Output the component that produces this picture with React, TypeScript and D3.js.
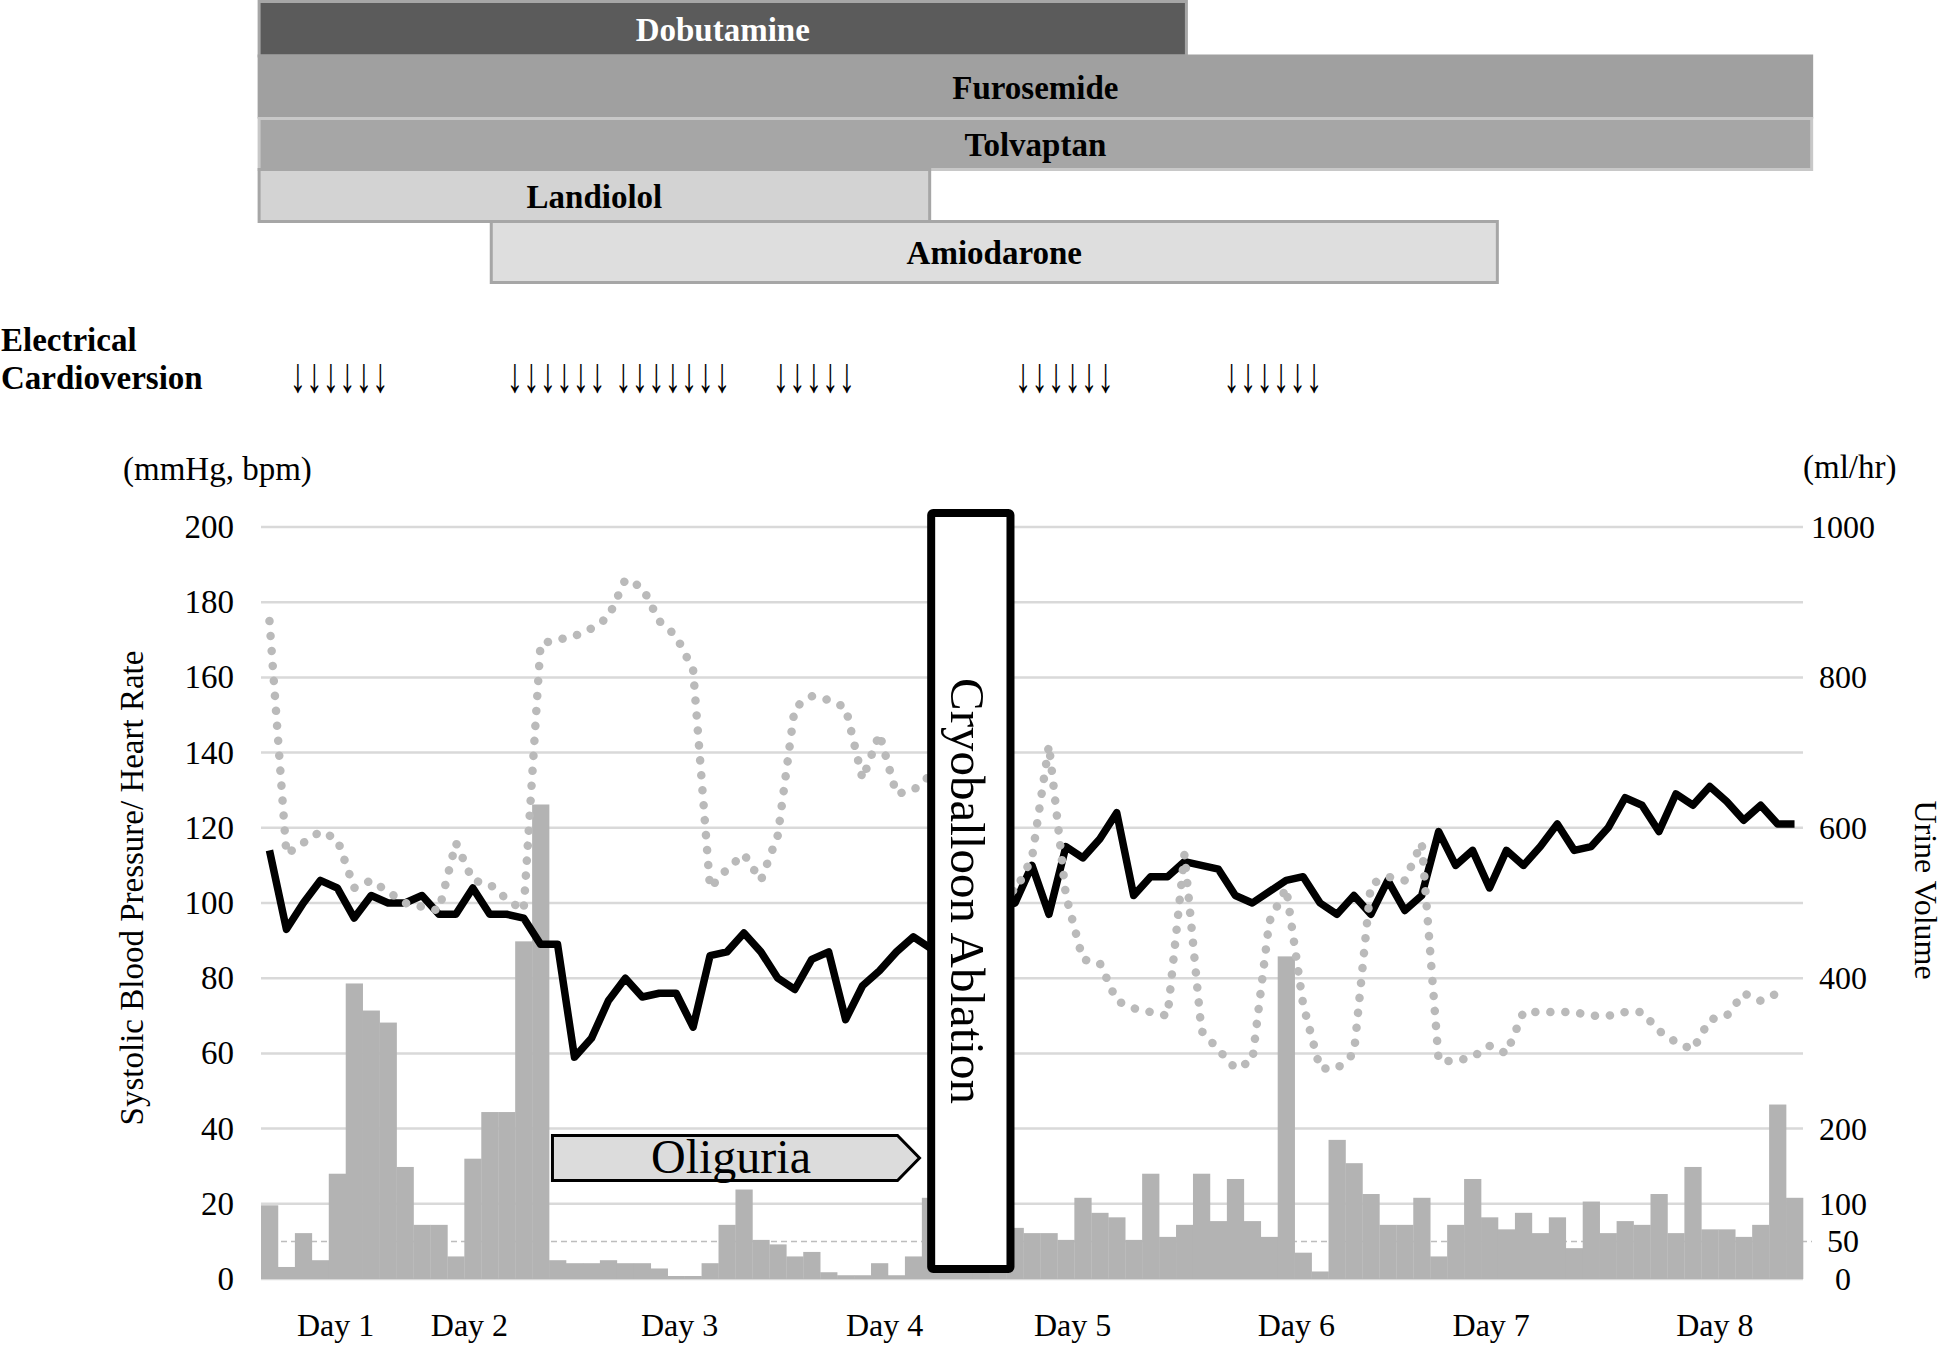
import React from "react";
import * as d3 from "d3";

// systolic blood pressure (mmHg), one point per 2h slot
const sbp = [
  114, 93, 100, 106, 104, 96, 102, 100, 100, 102,
  97, 97, 104, 97, 97, 96, 89, 89, 59, 64,
  74, 80, 75, 76, 76, 67, 86, 87, 92, 87,
  80, 77, 85, 87, 69, 78, 82, 87, 91, 88,
  90, 94, 97, 99, 100, 110, 97, 115, 112, 117,
  124, 102, 107, 107, 111, 110, 109, 102, 100, 103,
  106, 107, 100, 97, 102, 97, 106, 98, 102, 119,
  110, 114, 104, 114, 110, 115, 121, 114, 115, 120,
  128, 126, 119, 129, 126, 131, 127, 122, 126, 121,
  121,
];

// heart rate (bpm)
const hr: (number | null)[] = [
  175, 113, 116, 119, 117, 104, 106, 103, 100, 99,
  98, 116, 106, 105, 101, 98, 169, 170, 171, 173,
  176, 186, 184, 175, 171, 162, 104, 109, 113, 106,
  118, 152, 155, 154, 152, 133, 145, 129, 130, 134,
  126, 118, 110, 105, 103, 112, 142, 102, 85, 84,
  74, 72, 71, 70, 113, 66, 61, 56, 58, 95,
  104, 73, 56, 56, 60, 105, 107, 106, 116, 58,
  58, 59, 62, 60, 71, 71, 71, 71, 70, 70,
  71, 71, 66, 63, 61, 69, 70, 76, 74, 76,
  null,
];

// urine volume (ml/hr)
const urine = [
  98, 16, 61, 25, 140, 393, 357, 341, 149, 72,
  72, 30, 160, 222, 222, 449, 631, 25, 21, 21,
  25, 21, 21, 14, 4, 4, 21, 72, 119, 52,
  46, 30, 36, 9, 5, 5, 21, 5, 30, 108,
  60, 50, 40, 60, 68, 61, 61, 52, 108, 88,
  82, 52, 140, 56, 72, 140, 77, 133, 77, 56,
  429, 35, 10, 185, 154, 113, 72, 72, 108, 30,
  72, 133, 82, 66, 88, 61, 82, 41, 103, 61,
  77, 72, 113, 61, 149, 66, 66, 56, 72, 232,
  108,
];

const dayLabels = ["Day 1", "Day 2", "Day 3", "Day 4", "Day 5", "Day 6", "Day 7", "Day 8"];
const dayAt = [3.9, 11.8, 24.2, 36.3, 47.4, 60.6, 72.1, 85.3];

const leftTicks = [0, 20, 40, 60, 80, 100, 120, 140, 160, 180, 200];
const rightTicks = [0, 50, 100, 200, 400, 600, 800, 1000];

const drugs = ["Dobutamine", "Furosemide", "Tolvaptan", "Landiolol", "Amiodarone"];
const drugFrom = [-0.2, -0.2, -0.2, -0.2, 13.5];
const drugTo = [54.7, 91.6, 91.6, 39.55, 73.05];

const cvCounts = [6, 6, 7, 5, 6, 6];
const cvFrom = [1.7, 14.5, 20.9, 30.2, 44.5, 56.8];

const oliguriaSpan = [17.2, 38.86];
const ablationSpan = [39.55, 44.23];

const N = sbp.length;
const FONT = "'Liberation Serif', 'Times New Roman', serif";

// row styling for the drug timeline
const rowTop = [1.5, 56, 118.5, 169.5, 221.5];
const rowBottom = [56, 117, 169.5, 221.5, 282.5];
const rowFill = ["#5b5b5b", "#a0a0a0", "#a6a6a6", "#d3d3d3", "#dedede"];
const rowStroke = ["#a6a6a6", "#a0a0a0", "#c8c8c8", "#a6a6a6", "#a6a6a6"];
const rowText = ["#ffffff", "#000", "#000", "#000", "#000"];

export default function App() {
  const x = d3.scaleLinear().domain([0, N]).range([261, 1803]);
  const yL = d3.scaleLinear().domain([0, 200]).range([1279, 527]);
  const yR = d3.scaleLinear().domain([0, 1000]).range([1279, 527]);

  const idx = d3.range(N);
  const bpLine = d3
    .line<number>()
    .x((i) => x(i + 0.5))
    .y((i) => yL(sbp[i]))(idx);
  const hrLine = d3
    .line<number>()
    .defined((i) => hr[i] != null)
    .x((i) => x(i + 0.5))
    .y((i) => yL(hr[i] as number))(idx);

  const olTop = 1135.5;
  const olBot = 1180.5;
  const olX0 = x(oliguriaSpan[0]);
  const olTip = x(oliguriaSpan[1]);
  const olNeck = olTip - 22;
  const olPts = [
    [olX0, olTop],
    [olNeck, olTop],
    [olTip, (olTop + olBot) / 2],
    [olNeck, olBot],
    [olX0, olBot],
  ]
    .map((p) => p.join(","))
    .join(" ");

  const abX0 = x(ablationSpan[0]);
  const abX1 = x(ablationSpan[1]);

  return (
    <svg
      width={1946}
      height={1348}
      style={{ position: "absolute", left: 0, top: 0, background: "#fff" }}
      fontFamily={FONT}
    >
      {/* drug timeline */}
      {drugs.map((d, k) => (
        <g key={d}>
          <rect
            x={x(drugFrom[k]) + 1.5}
            y={rowTop[k]}
            width={x(drugTo[k]) - x(drugFrom[k]) - 3}
            height={rowBottom[k] - rowTop[k]}
            fill={rowFill[k]}
            stroke={rowStroke[k]}
            strokeWidth={3}
          />
          <text
            x={(x(drugFrom[k]) + x(drugTo[k])) / 2}
            y={(rowTop[k] + rowBottom[k]) / 2 + 12}
            textAnchor="middle"
            fontWeight="bold"
            fontSize={33}
            fill={rowText[k]}
          >
            {d}
          </text>
        </g>
      ))}

      {/* electrical cardioversion */}
      <text x={1} y={351} fontSize={33} fontWeight="bold">Electrical</text>
      <text x={1} y={389} fontSize={33} fontWeight="bold">Cardioversion</text>
      {cvCounts.map((n, g) => (
        <text
          key={g}
          transform={`translate(${x(cvFrom[g])},392) scale(1,1.5)`}
          fontSize={33}
        >
          {"\u2193".repeat(n)}
        </text>
      ))}

      {/* axis units */}
      <text x={123} y={480} fontSize={33}>(mmHg, bpm)</text>
      <text x={1803} y={478} fontSize={33}>(ml/hr)</text>

      {/* gridlines */}
      {leftTicks.map((t) => (
        <line key={t} x1={261} x2={1803} y1={yL(t)} y2={yL(t)} stroke="#d9d9d9" strokeWidth={2.5} />
      ))}
      <line x1={261} x2={1812} y1={yR(50)} y2={yR(50)} stroke="#bdbdbd" strokeWidth={1.5} strokeDasharray="6 4" />

      {/* urine bars */}
      {urine.map((u, i) => (
        <rect key={i} x={x(i)} y={yR(u)} width={x(i + 1) - x(i) + 0.3} height={yR(0) - yR(u)} fill="#b3b3b3" />
      ))}

      {/* lines */}
      <path d={bpLine ?? ""} fill="none" stroke="#000" strokeWidth={7.5} strokeLinejoin="round" />
      <path
        d={hrLine ?? ""}
        fill="none"
        stroke="#bababa"
        strokeWidth={8.5}
        strokeLinecap="round"
        strokeDasharray="0.1 14.9"
      />

      {/* left axis labels */}
      {leftTicks.map((t) => (
        <text key={t} x={234} y={yL(t) + 11} textAnchor="end" fontSize={33}>
          {t}
        </text>
      ))}
      {/* right axis labels */}
      {rightTicks.map((t) => (
        <text key={t} x={1843} y={yR(t) + 11} textAnchor="middle" fontSize={32}>
          {t}
        </text>
      ))}

      {/* day labels */}
      {dayLabels.map((d, k) => (
        <text key={d} x={x(dayAt[k] + 0.5)} y={1336} textAnchor="middle" fontSize={32}>
          {d}
        </text>
      ))}

      {/* axis titles */}
      <text transform="translate(143,888) rotate(-90)" textAnchor="middle" fontSize={33}>
        Systolic Blood Pressure/ Heart Rate
      </text>
      <text transform="translate(1915,890) rotate(90)" textAnchor="middle" fontSize={32}>
        Urine Volume
      </text>

      {/* oliguria annotation */}
      <polygon points={olPts} fill="#dcdcdc" stroke="#000" strokeWidth={3} />
      <text x={731} y={1173} textAnchor="middle" fontSize={48}>Oliguria</text>

      {/* cryoballoon ablation */}
      <rect x={abX0} y={513} width={abX1 - abX0} height={756} fill="#fff" stroke="#000" strokeWidth={8} rx={2} />
      <text transform={`translate(${(abX0 + abX1) / 2 - 20},891) rotate(90)`} textAnchor="middle" fontSize={49}>
        Cryoballoon Ablation
      </text>
    </svg>
  );
}
